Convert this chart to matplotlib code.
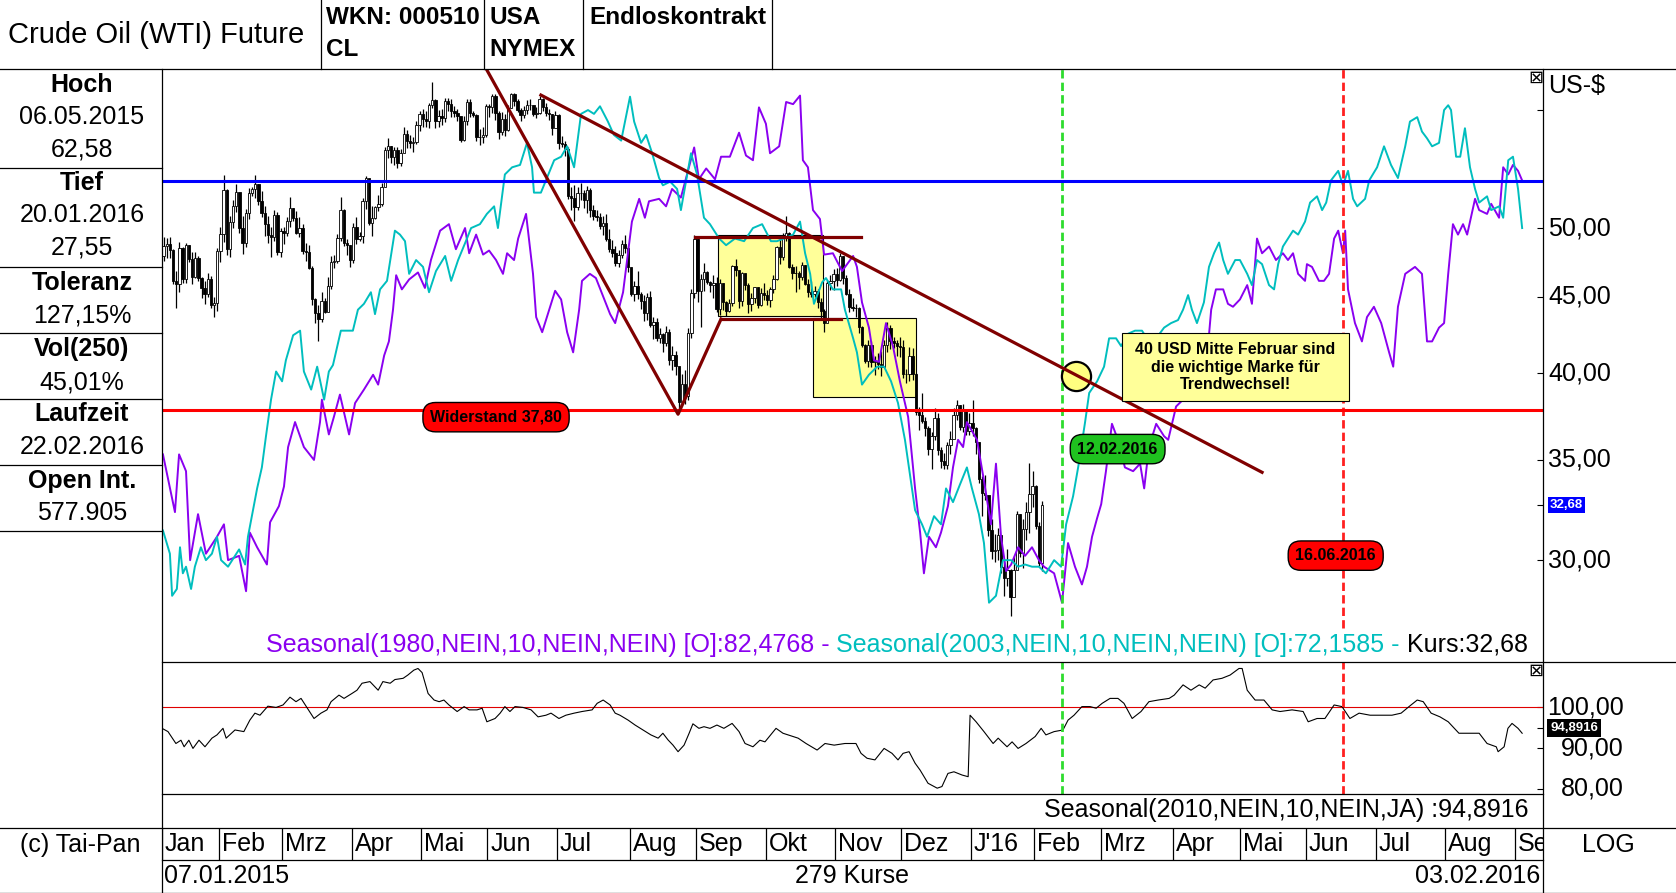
import numpy as np
import matplotlib
matplotlib.use("Agg")
import matplotlib.pyplot as plt
from matplotlib.patches import Rectangle
from matplotlib.lines import Line2D
from matplotlib import transforms

plt.rcParams['font.family'] = ['Liberation Sans', 'DejaVu Sans']
plt.rcParams['lines.scale_dashes'] = False

# daily bars 07.01.2015 - 03.02.2016 (279 Kurse), open = close of the day before
first_open = 47.93
close = [
    48.65, 48.79, 48.36, 46.07, 45.89, 48.48, 46.25, 48.69, 47.70, 46.39, 47.78, 46.31, 45.59, 45.15, 46.23, 44.45, 44.53, 48.24,
    49.57, 53.05, 48.45, 50.48, 51.69, 52.86, 50.02, 48.84, 51.21, 52.78, 53.10, 53.53, 52.14, 51.16, 50.34, 49.45, 49.28, 50.99, 48.17, 49.76,
    49.59, 50.52, 51.53, 50.76, 49.61, 50.00, 48.29, 48.17, 47.05, 44.84, 43.88, 43.46, 44.66, 43.96, 45.72, 47.45, 47.51, 49.21, 51.43, 48.87, 48.68, 47.60,
    50.09, 49.14, 49.40, 52.14, 53.98, 50.42, 50.79, 51.64, 51.91, 53.29, 56.39, 56.71, 55.74, 56.38, 55.26, 56.16, 57.74, 57.15, 56.99, 57.06, 58.58, 59.63,
    59.15, 58.93, 60.40, 60.93, 58.94, 59.39, 59.25, 60.75, 60.50, 59.88, 59.69, 59.43, 57.26, 58.98, 60.72, 59.72, 59.50, 57.51, 57.51, 57.68, 60.30,
    60.20, 61.26, 59.64, 58.00, 59.13, 58.14, 60.14, 61.43, 60.77, 59.96, 59.52, 59.97, 60.43, 60.45, 59.61, 59.68, 61.01, 60.27, 59.70, 59.63, 58.33, 59.47,
    56.96, 56.93, 56.50, 52.53, 52.33, 51.65, 52.78, 52.74, 52.20, 53.04, 51.41, 50.91, 50.89, 50.15, 50.36, 49.19, 48.45, 48.14, 47.39, 47.98, 48.79, 48.52, 47.12,
    45.17, 45.74, 45.15, 44.66, 43.87, 44.96, 43.08, 43.30, 42.23, 42.50, 41.87, 42.62, 40.80, 41.14, 40.45, 38.24, 39.31, 38.60, 42.56, 45.22, 49.20,
    45.41, 46.25, 46.75, 46.05, 45.80, 45.94, 44.15, 45.92, 44.63, 44.00, 44.59, 47.15, 46.90, 44.68, 46.68, 45.83, 44.48, 44.91, 45.70, 44.43, 45.23, 45.09,
    44.74, 45.54, 46.26, 48.53, 47.81, 49.43, 49.63, 47.10, 46.66, 46.64, 46.38, 47.26, 45.89, 45.29, 45.20, 45.38, 44.60, 43.98, 43.20, 45.94, 46.06, 46.59,
    46.14, 47.90, 46.32, 45.20, 44.29, 44.21, 44.21, 42.93, 41.75, 40.74, 41.74, 40.67, 40.75, 40.54, 40.39, 41.75, 42.87, 42.04, 41.90, 41.71, 41.65,
    39.94, 39.94, 41.08, 39.97, 37.65, 37.51, 37.16, 36.76, 35.62, 36.31, 37.35, 35.52, 34.95, 34.73, 35.81, 36.14, 37.50, 38.10, 36.81, 37.87, 36.60, 37.04,
    36.76, 35.97, 33.97, 33.27, 33.16, 31.41, 30.44, 30.48, 31.20, 29.70, 29.20, 29.57, 28.35, 29.53, 32.19, 30.34, 31.45, 32.30, 33.22, 33.62,
    31.62, 29.88, 32.68,
]
high = [
    49.31, 49.27, 49.28, 48.42, 46.84, 48.97, 48.55, 48.84, 48.75, 48.20, 48.21, 47.88, 46.40, 46.10, 46.68, 46.42, 44.97, 48.50,
    50.05, 54.24, 53.10, 50.91, 52.20, 53.50, 52.75, 50.90, 51.50, 53.20, 53.30, 54.24, 53.50, 52.90, 51.73, 50.90, 50.10, 51.39, 51.25, 50.00,
    50.09, 50.82, 52.48, 51.56, 51.31, 50.82, 50.30, 48.89, 48.72, 47.20, 44.91, 44.44, 45.34, 44.90, 46.40, 47.88, 47.96, 49.57, 52.48, 51.52, 49.20, 48.69,
    50.40, 50.85, 49.70, 52.38, 54.19, 53.93, 51.71, 51.73, 52.57, 53.56, 56.65, 57.42, 56.71, 56.64, 56.63, 56.48, 58.41, 58.12, 57.66, 57.56, 58.97, 59.90,
    60.09, 59.82, 60.65, 62.58, 60.96, 60.00, 60.09, 61.07, 61.09, 60.95, 60.34, 60.06, 59.23, 59.43, 61.02, 60.94, 59.90, 59.63, 58.25, 58.44, 60.53,
    60.51, 61.48, 61.46, 59.89, 59.79, 59.55, 60.45, 61.57, 61.51, 61.02, 60.12, 60.37, 60.90, 61.00, 60.45, 60.28, 61.28, 61.09, 60.56, 60.03, 59.58, 59.91,
    59.60, 57.62, 57.20, 56.60, 53.22, 53.45, 53.26, 53.61, 53.05, 53.34, 53.19, 51.83, 51.40, 51.15, 50.97, 51.07, 49.92, 49.11, 48.62, 48.35, 49.09, 49.46, 48.62,
    47.00, 46.11, 46.79, 45.35, 45.13, 45.24, 45.37, 43.59, 43.52, 42.88, 42.55, 43.02, 42.80, 41.68, 41.37, 40.20, 39.92, 40.22, 42.88, 45.50, 49.47,
    49.30, 46.56, 47.35, 46.81, 46.10, 46.54, 46.41, 46.20, 45.60, 44.72, 44.84, 47.21, 47.65, 46.80, 46.75, 46.60, 45.94, 45.25, 45.70, 45.50, 45.58, 45.98,
    45.47, 45.64, 46.49, 48.62, 49.22, 49.65, 50.92, 49.69, 47.33, 47.18, 46.80, 47.48, 47.23, 46.22, 46.12, 45.76, 45.54, 44.90, 44.16, 46.13, 46.54, 46.96,
    46.99, 48.15, 47.89, 46.53, 45.51, 44.90, 44.50, 44.30, 43.00, 41.86, 42.07, 42.04, 41.07, 41.24, 41.38, 42.08, 43.24, 43.06, 42.30, 42.08, 42.26,
    42.09, 40.25, 41.65, 41.60, 40.00, 37.96, 38.80, 37.41, 36.88, 36.54, 37.90, 37.64, 35.72, 35.38, 35.96, 36.57, 37.89, 38.39, 38.09, 38.15, 37.79, 37.64,
    38.39, 36.84, 35.97, 34.13, 34.22, 33.13, 31.98, 31.25, 31.53, 31.15, 29.90, 30.50, 29.60, 30.18, 32.35, 32.20, 31.98, 32.79, 34.82, 34.40,
    33.70, 31.83, 32.88,
]
low = [
    47.55, 47.76, 47.74, 45.87, 44.20, 45.35, 45.93, 45.96, 47.45, 45.87, 46.33, 46.06, 44.93, 44.51, 44.99, 44.20, 43.58, 43.99,
    47.43, 48.97, 47.96, 47.83, 50.02, 51.26, 49.59, 48.01, 48.58, 50.67, 52.50, 52.40, 51.83, 50.88, 49.40, 48.85, 47.82, 49.05, 47.98, 47.83,
    48.81, 49.37, 50.10, 50.51, 49.55, 49.30, 48.05, 47.56, 46.93, 44.43, 43.21, 42.03, 43.27, 43.85, 44.10, 45.55, 47.01, 47.39, 49.01, 48.65, 47.99, 47.08,
    47.35, 48.80, 49.00, 48.87, 51.48, 50.21, 49.36, 50.68, 51.32, 51.72, 53.71, 55.71, 55.25, 55.13, 54.82, 54.98, 56.37, 56.55, 56.58, 56.23, 56.87, 58.03,
    58.43, 58.41, 58.33, 60.12, 58.36, 58.45, 58.61, 58.89, 59.87, 59.31, 59.36, 58.98, 57.04, 57.16, 58.57, 59.34, 59.30, 57.20, 56.80, 57.03, 57.51,
    59.30, 59.72, 59.07, 57.30, 57.72, 57.59, 58.06, 60.20, 60.33, 59.73, 58.91, 59.23, 59.58, 59.97, 59.39, 59.20, 59.56, 59.88, 59.40, 59.06, 57.70, 58.38,
    56.46, 56.68, 55.90, 52.25, 51.40, 50.58, 51.41, 52.21, 51.54, 51.16, 50.86, 50.59, 50.54, 49.94, 49.45, 49.04, 48.16, 47.82, 47.19, 47.12, 47.72, 48.09, 46.72,
    45.03, 44.72, 44.86, 44.15, 43.33, 43.43, 42.97, 42.17, 42.05, 41.92, 41.35, 41.71, 40.52, 40.21, 39.86, 37.75, 38.13, 38.13, 38.36, 42.20, 44.88,
    44.65, 42.96, 45.37, 45.87, 45.30, 44.88, 43.92, 43.76, 44.07, 43.65, 43.92, 44.38, 46.46, 44.21, 44.32, 45.45, 43.88, 43.98, 44.54, 44.24, 44.38, 44.73,
    44.43, 44.29, 45.26, 46.17, 47.33, 47.62, 48.98, 47.02, 46.24, 45.34, 45.51, 46.19, 45.84, 44.98, 44.97, 44.98, 44.24, 43.49, 42.58, 43.75, 45.44, 45.49,
    45.76, 46.08, 45.87, 45.08, 43.97, 44.00, 43.61, 42.54, 41.61, 40.60, 40.36, 40.41, 39.90, 40.25, 39.81, 40.57, 41.35, 41.49, 41.60, 41.09, 41.01,
    39.70, 39.41, 39.51, 39.56, 37.50, 36.64, 37.04, 36.30, 35.29, 34.53, 36.10, 35.25, 34.56, 34.53, 34.53, 35.30, 36.28, 37.22, 36.65, 36.54, 36.37, 36.36,
    36.33, 35.31, 33.77, 32.10, 32.90, 31.12, 30.05, 29.93, 30.01, 29.40, 28.40, 28.85, 27.55, 28.41, 29.71, 30.15, 29.65, 30.94, 31.29, 32.57,
    31.48, 29.71, 29.52,
]

# x axis = bar number since 07.01.2015
month_names = ['Jan', 'Feb', 'Mrz', 'Apr', 'Mai', 'Jun', 'Jul', 'Aug', 'Sep', 'Okt', 'Nov', 'Dez',
               "J'16", 'Feb', 'Mrz', 'Apr', 'Mai', 'Jun', 'Jul', 'Aug', 'Sep']
month_start = [0, 18, 38, 60, 82, 103, 125, 148, 169, 191, 213, 234, 256, 276, 297, 320, 341, 362, 384, 406, 428]
x_end = 437

# Seasonal(1980,...) purple
purple_x = [0.3, 4.1, 5.4, 7.6, 8.9, 11.4, 13.9, 17.4, 19.6, 20.9, 24.4, 26.6, 27.8, 30.1, 33.2, 34.2, 37.0, 38.6, 39.9, 42.1,
            44.9, 48.1, 50.0, 50.6, 52.8, 54.4, 56.3, 59.2, 61.1, 63.9, 66.8, 68.4, 70.3, 71.8, 73.1, 74.1, 75.9, 78.2, 81.0, 83.2,
            85.1, 88.0, 90.8, 93.0, 95.9, 97.2, 99.4, 101.6, 103.5, 105.7, 107.9, 109.2, 111.4, 112.7, 115.2, 117.4, 118.4, 120.3, 121.8, 124.4,
            126.3, 128.2, 130.1, 132.0, 132.9, 135.4, 137.3, 139.6, 141.8, 143.4, 145.9, 148.7, 151.0, 152.8, 154.1, 157.3, 159.5, 161.4, 164.2, 168.4,
            169.9, 172.2, 175.0, 176.9, 179.7, 182.6, 184.8, 187.0, 188.9, 191.1, 192.4, 195.3, 197.5, 199.7, 201.9, 202.8, 204.4, 206.0, 208.2, 209.5,
            212.3, 215.2, 218.7, 219.9, 221.5, 223.7, 225.3, 226.9, 229.1, 231.3, 233.5, 236.1, 238.3, 239.9, 241.1, 242.7, 244.9, 246.5, 248.7, 250.3,
            251.9, 253.5, 254.7, 257.9, 260.1, 262.3, 263.9, 265.5, 267.1, 268.7, 270.9, 273.1, 275.3, 277.5, 279.1, 282.3, 284.8, 286.7, 288.9, 291.1,
            292.7, 294.3, 295.9, 297.2, 298.7, 300.6, 302.5, 304.7, 307.3, 309.5, 310.8, 312.3, 314.6, 317.1, 318.4, 320.9, 323.1, 325.3, 327.5, 330.7,
            332.0, 333.5, 335.8, 337.3, 338.9, 341.1, 343.4, 344.9, 346.5, 348.1, 350.3, 352.5, 354.7, 356.3, 357.9, 359.5, 361.7, 362.3, 363.9, 366.1,
            367.7, 369.3, 370.9, 372.2, 373.7, 374.4, 375.3, 377.5, 379.7, 381.3, 383.5, 385.8, 388.3, 389.6, 391.1, 393.4, 396.5, 398.7, 400.3, 401.9,
            404.1, 405.7, 407.0, 408.5, 410.1, 411.7, 413.0, 415.5, 416.8, 419.3, 420.6, 423.1, 424.4, 426.0, 427.5, 429.1, 430.4]
purple_y = [35.3, 32.3, 35.3, 34.4, 30.0, 32.2, 30.3, 31.1, 31.7, 30.0, 30.2, 28.6, 31.3, 30.6, 29.8, 31.8, 32.6, 33.6, 35.7, 37.1,
            35.7, 35.0, 37.1, 38.4, 36.4, 37.4, 38.7, 36.4, 38.2, 39.0, 39.9, 39.3, 41.1, 42.0, 44.1, 46.5, 45.5, 46.2, 46.7, 45.6,
            47.6, 49.8, 50.3, 48.4, 50.0, 48.1, 49.5, 48.0, 48.3, 47.6, 46.6, 48.1, 47.6, 49.2, 51.1, 46.6, 43.6, 42.6, 43.6, 45.4,
            44.8, 42.6, 41.3, 44.1, 46.1, 46.6, 46.3, 45.0, 43.8, 43.2, 45.3, 50.5, 52.3, 50.8, 52.1, 52.3, 51.7, 53.1, 52.4, 56.6,
            53.9, 54.8, 53.9, 55.8, 55.8, 57.9, 55.9, 55.5, 60.2, 58.7, 56.1, 56.7, 60.7, 60.5, 61.3, 55.5, 54.9, 51.4, 50.7, 48.0,
            48.1, 46.8, 47.9, 47.1, 44.6, 42.9, 40.8, 40.7, 43.2, 41.7, 39.5, 37.4, 33.5, 31.3, 29.4, 31.1, 30.6, 31.3, 32.6, 34.6,
            36.1, 35.7, 37.1, 36.1, 33.9, 31.7, 34.8, 31.1, 29.5, 29.8, 30.6, 30.2, 30.6, 30.0, 29.7, 29.4, 28.1, 30.8, 29.7, 28.9,
            29.7, 31.1, 32.0, 32.7, 34.4, 37.0, 36.1, 34.6, 34.4, 34.8, 33.5, 35.7, 37.0, 36.3, 36.1, 38.0, 38.4, 38.4, 38.8, 41.0,
            44.1, 45.5, 45.5, 44.5, 44.3, 44.8, 45.8, 44.5, 49.2, 48.1, 48.6, 47.6, 48.1, 47.6, 48.1, 46.6, 46.1, 47.3, 47.1, 46.1,
            46.1, 46.6, 49.2, 49.8, 48.1, 49.8, 45.5, 43.2, 42.0, 43.6, 44.3, 43.2, 41.3, 40.4, 44.3, 46.6, 47.1, 46.6, 42.0, 42.0,
            42.9, 43.2, 46.6, 50.3, 49.5, 50.3, 49.5, 52.3, 51.4, 51.1, 51.9, 50.8, 54.9, 54.3, 55.1, 54.6, 53.8]

# Seasonal(2003,...) cyan
cyan_x = [0.3, 2.5, 3.2, 4.7, 5.7, 6.6, 7.6, 9.2, 10.4, 12.3, 13.9, 15.8, 17.4, 18.7, 20.9, 23.1, 24.4, 26.3, 27.2, 28.8,
          30.1, 31.6, 32.9, 34.5, 36.1, 38.0, 39.2, 41.5, 43.7, 44.9, 47.2, 49.1, 51.3, 52.8, 54.1, 56.6, 58.2, 60.4, 62.0, 63.9,
          66.1, 67.4, 69.0, 71.2, 73.7, 75.3, 76.9, 78.2, 80.4, 82.6, 84.5, 86.7, 89.6, 91.5, 93.7, 96.5, 97.8, 100.6, 102.8, 105.1,
          106.3, 108.5, 110.8, 113.3, 115.5, 117.1, 117.7, 119.9, 121.8, 124.1, 126.3, 128.2, 130.4, 132.6, 134.8, 136.7, 138.6, 141.1, 143.0, 145.3,
          146.5, 148.1, 149.4, 151.6, 153.2, 155.1, 157.3, 158.5, 160.8, 163.0, 164.2, 165.8, 167.4, 169.3, 171.5, 173.4, 176.3, 178.5, 181.3, 184.2,
          187.0, 189.9, 192.7, 194.6, 196.8, 199.7, 201.9, 203.5, 205.1, 206.3, 208.9, 210.1, 212.3, 214.9, 216.1, 218.7, 219.9, 221.5, 223.7, 226.3,
          228.5, 230.7, 232.9, 235.1, 237.3, 238.3, 240.5, 242.1, 244.3, 246.5, 248.1, 250.3, 252.5, 254.7, 256.3, 258.5, 260.1, 261.7, 263.9, 266.1,
          268.7, 270.9, 273.1, 275.3, 277.5, 279.7, 282.3, 284.5, 286.1, 288.3, 289.9, 292.1, 293.4, 295.9, 298.1, 299.7, 301.9, 303.5, 305.7, 307.9,
          310.1, 312.3, 314.6, 317.1, 319.3, 321.5, 323.1, 324.7, 325.9, 327.5, 329.7, 331.3, 332.9, 334.5, 335.8, 337.3, 339.6, 341.1, 343.4, 344.9,
          346.5, 348.1, 350.3, 351.9, 353.2, 354.7, 356.3, 357.9, 359.5, 361.7, 363.3, 365.5, 367.1, 368.4, 369.9, 372.2, 373.7, 375.3, 376.9, 378.2,
          380.7, 382.0, 384.5, 386.7, 388.9, 391.1, 393.4, 394.9, 397.2, 398.7, 400.3, 401.9, 404.1, 405.7, 407.0, 407.9, 409.5, 410.8, 412.3, 413.9,
          415.5, 416.8, 419.3, 420.6, 423.1, 424.4, 426.0, 427.5, 429.1, 430.4]
cyan_y = [31.4, 30.3, 28.4, 28.7, 30.6, 29.4, 29.7, 28.7, 29.7, 30.6, 30.0, 30.3, 31.1, 30.0, 29.7, 30.2, 30.5, 29.8, 31.1, 32.4,
          33.5, 34.6, 36.3, 38.4, 40.1, 39.5, 40.8, 42.4, 42.7, 40.1, 39.0, 40.4, 38.4, 40.1, 40.5, 42.7, 42.7, 42.7, 44.1, 44.5,
          45.3, 43.8, 45.5, 46.1, 49.8, 49.5, 49.0, 46.6, 47.6, 47.1, 45.3, 46.8, 47.9, 46.1, 47.6, 49.2, 50.0, 50.3, 51.1, 51.7,
          50.0, 54.3, 54.9, 55.1, 57.0, 54.9, 52.8, 52.8, 54.0, 55.5, 55.8, 56.7, 54.9, 59.6, 59.95, 59.6, 60.3, 58.9, 57.7, 57.2,
          58.9, 61.2, 58.9, 57.0, 57.7, 56.1, 54.0, 53.4, 53.7, 53.1, 51.4, 53.7, 56.1, 54.3, 50.8, 50.3, 49.2, 48.7, 49.2, 49.0,
          50.0, 50.3, 49.0, 49.0, 49.2, 49.5, 50.5, 48.1, 46.6, 44.5, 46.0, 46.3, 45.5, 45.5, 44.1, 42.2, 41.3, 39.3, 39.9, 40.4,
          40.4, 39.5, 38.2, 36.1, 33.5, 32.4, 31.7, 31.1, 32.1, 31.7, 33.5, 32.8, 33.7, 34.6, 33.5, 32.2, 30.8, 28.1, 28.4, 30.0,
          30.0, 29.7, 29.8, 29.7, 29.7, 29.4, 30.0, 29.7, 31.7, 33.1, 34.6, 37.1, 38.8, 39.5, 40.4, 42.2, 42.2, 41.7, 42.5, 42.7,
          42.7, 42.0, 42.2, 42.9, 43.2, 43.4, 44.1, 45.1, 44.1, 43.2, 44.6, 47.1, 48.1, 48.9, 47.6, 46.6, 47.6, 47.6, 46.6, 45.8,
          47.6, 47.3, 45.8, 45.5, 47.3, 48.6, 49.2, 49.8, 49.5, 50.5, 52.0, 52.5, 51.4, 52.0, 53.8, 54.6, 53.4, 54.6, 52.3, 51.7,
          52.3, 53.8, 54.9, 56.7, 55.1, 54.0, 56.7, 58.9, 59.3, 58.0, 57.4, 56.7, 57.0, 59.95, 60.4, 59.95, 55.8, 55.8, 58.3, 54.9,
          53.1, 52.0, 52.5, 51.4, 51.7, 50.8, 55.5, 55.8, 53.1, 50.0]

# Seasonal(2010,NEIN,10,NEIN,JA) lower panel
seas_x = [0.0, 1.9, 4.4, 6.0, 7.0, 8.5, 9.8, 11.7, 13.6, 15.8, 17.4, 19.3, 20.3, 23.1, 25.9, 27.8, 29.4, 31.0, 33.5, 36.1,
          38.3, 40.5, 42.4, 44.0, 45.6, 48.1, 50.3, 52.2, 53.5, 56.0, 57.6, 60.1, 61.7, 63.3, 65.8, 68.4, 69.9, 72.2, 73.7, 76.3,
          77.8, 79.7, 81.0, 82.3, 84.2, 86.1, 87.7, 89.2, 90.8, 93.4, 95.6, 97.2, 99.7, 101.3, 102.8, 105.4, 107.0, 108.5, 110.1, 111.7,
          114.2, 116.8, 119.0, 121.5, 123.1, 125.6, 127.8, 130.4, 132.9, 136.1, 137.7, 139.6, 141.8, 143.4, 144.9, 147.5, 149.7, 152.2, 154.7, 157.0,
          158.5, 160.1, 161.7, 163.3, 165.2, 166.8, 168.0, 169.9, 171.5, 173.4, 175.6, 177.8, 180.4, 182.6, 184.5, 187.0, 189.2, 190.8, 194.3, 196.5,
          201.3, 203.8, 207.3, 209.8, 212.7, 216.1, 219.6, 221.2, 223.1, 225.6, 228.5, 231.0, 232.9, 234.5, 236.4, 238.3, 239.9, 242.4, 245.3, 246.8,
          248.7, 250.6, 253.2, 255.1, 255.7, 257.6, 260.1, 263.0, 264.6, 267.4, 269.0, 270.9, 273.4, 276.3, 278.2, 279.7, 282.3, 285.1, 286.7, 288.6,
          291.1, 293.7, 295.6, 297.5, 300.0, 302.5, 304.4, 307.0, 309.8, 312.3, 315.2, 318.7, 320.3, 323.1, 325.6, 328.2, 330.1, 332.6, 335.4, 338.0,
          340.8, 341.8, 343.4, 345.9, 348.7, 351.3, 353.8, 357.6, 361.1, 362.7, 365.5, 368.0, 370.9, 373.4, 375.9, 378.8, 382.3, 385.8, 389.2, 392.1,
          394.6, 397.2, 399.1, 401.6, 404.4, 407.0, 410.4, 413.9, 416.8, 419.3, 422.2, 422.8, 424.7, 425.9, 427.2, 429.1, 430.4]
seas_y = [94.8, 94.0, 91.1, 91.9, 90.3, 91.9, 89.9, 91.9, 90.3, 92.4, 93.2, 94.8, 92.4, 94.4, 94.0, 96.8, 98.5, 98.0, 100.2, 99.9,
          100.5, 102.4, 101.3, 102.1, 100.2, 97.2, 98.5, 99.3, 101.3, 102.9, 102.1, 103.3, 104.1, 105.8, 106.2, 104.1, 106.2, 105.8, 106.7, 107.0,
          107.8, 109.0, 109.4, 108.4, 103.3, 101.7, 101.3, 101.7, 100.5, 98.9, 100.1, 99.3, 99.3, 99.7, 96.4, 97.2, 98.5, 100.1, 98.9, 100.1,
          99.9, 99.3, 97.6, 98.0, 98.5, 97.2, 98.0, 98.5, 98.9, 99.3, 100.9, 101.7, 100.5, 98.5, 98.0, 96.8, 95.6, 94.4, 93.2, 92.4,
          93.6, 92.0, 90.7, 89.1, 90.7, 93.6, 95.9, 94.8, 95.2, 94.8, 95.6, 94.8, 96.0, 94.0, 91.1, 90.3, 91.9, 91.5, 94.8, 93.6,
          92.4, 91.1, 89.5, 91.1, 90.7, 91.1, 91.1, 88.7, 87.5, 87.1, 89.9, 88.7, 87.1, 88.7, 89.1, 86.3, 84.6, 81.4, 80.2, 80.6,
          83.8, 84.2, 83.4, 83.0, 98.0, 96.4, 94.0, 91.1, 92.4, 90.3, 91.5, 89.9, 91.1, 92.8, 94.8, 93.2, 94.0, 94.4, 96.8, 98.0,
          100.1, 100.1, 99.7, 100.9, 102.1, 102.1, 100.9, 97.2, 98.9, 101.3, 101.7, 102.1, 102.9, 105.4, 104.1, 105.4, 104.6, 106.6, 107.0, 107.8,
          109.4, 109.4, 104.1, 101.7, 101.7, 99.3, 98.9, 99.3, 98.9, 96.4, 97.2, 97.2, 100.5, 100.1, 97.2, 98.5, 98.0, 98.0, 98.0, 98.5,
          100.1, 101.7, 101.3, 98.5, 97.6, 96.4, 93.6, 93.6, 93.6, 91.1, 90.3, 89.1, 90.3, 94.8, 96.0, 94.8, 93.6]

# drawings on the chart
blue_level = 53.75
resistance = 37.80
green_day = 284.8   # 12.02.2016
red_day = 373.7     # 16.06.2016
v_leg_x, v_leg_y = [102.8, 163.3, 176.9], [63.76, 37.55, 43.47]
trend_x, trend_y = [119.9, 348.1], [61.35, 34.34]
box_low_x, box_low_y = [176.9, 214.9], 43.47
box_top_x, box_top_y = [168.7, 221.2], 49.31
yellow1 = (176.0, 209.2, 43.7, 49.5)
yellow2 = (206.0, 238.6, 38.55, 43.53)
circle_pt = (289.2, 39.8)
note_box = (303.8, 375.6, 38.32, 42.54)

PURPLE = '#8a00f0'
CYAN = '#00bebe'
MAROON = '#800000'

W, H = 1676, 893
fig = plt.figure(figsize=(W / 100, H / 100), dpi=100)


def fx(px):
    return px / W


def fy(py):
    return 1 - py / H


def place(l, t, r, b):
    return [fx(l), fy(b), fx(r) - fx(l), fy(t) - fy(b)]


def hline(y, x0, x1):
    fig.add_artist(Line2D([fx(x0), fx(x1)], [fy(y), fy(y)], transform=fig.transFigure, color='black', lw=0.9))


def vline(x, y0, y1):
    fig.add_artist(Line2D([fx(x), fx(x)], [fy(y0), fy(y1)], transform=fig.transFigure, color='black', lw=0.9))


ax = fig.add_axes(place(162, 69, 1543, 662))
ax2 = fig.add_axes(place(162, 662, 1543, 794))
axm = fig.add_axes(place(162, 828, 1543, 860))

# ---- main panel ----
ax.set_yscale('log')
ax.set_xlim(0, x_end)
ax.set_ylim(25.65, 63.86)

c = np.array(close)
h = np.array(high)
lo = np.array(low)
o = np.r_[first_open, c[:-1]]
xb = np.arange(len(c)) + 0.5
up = c >= o
ax.vlines(xb, lo, h, color='black', lw=0.9, zorder=3)
ax.bar(xb, np.abs(c - o), bottom=np.minimum(o, c), width=0.75,
       color=['white' if u else 'black' for u in up], edgecolor='black', linewidth=0.6, zorder=3.1)

for x0, x1, y0, y1 in [yellow1, yellow2]:
    ax.add_patch(Rectangle((x0, y0), x1 - x0, y1 - y0, fc='#ffff99', ec='black', lw=0.8, zorder=1))

ax.plot(purple_x, purple_y, color=PURPLE, lw=1.4, zorder=4)
ax.plot(cyan_x, cyan_y, color=CYAN, lw=1.4, zorder=4)

for a in (ax, ax2):
    ymin = 0.057 if a is ax else 0.0
    a.axvline(green_day, ymin=ymin, color='#2edc2e', lw=2, dashes=(6, 3), zorder=5)
    a.axvline(red_day, ymin=ymin, color='#ff2020', lw=2, dashes=(6, 3), zorder=5)

ax.axhline(blue_level, color='#0000ff', lw=2.2, zorder=6)
ax.axhline(resistance, color='#ff0000', lw=2.2, zorder=6)

ax.plot([circle_pt[0]], [circle_pt[1]], 'o', ms=21, mfc='#ffff80', mec='black', mew=1.6, zorder=6.5)

ax.plot(v_leg_x, v_leg_y, color=MAROON, lw=2.3, zorder=7)
ax.plot(trend_x, trend_y, color=MAROON, lw=2.3, zorder=7)
ax.plot(box_low_x, [box_low_y] * 2, color=MAROON, lw=2.3, zorder=7)
ax.plot(box_top_x, [box_top_y] * 2, color=MAROON, lw=2.3, zorder=7)

nx0, nx1, ny0, ny1 = note_box
ax.add_patch(Rectangle((nx0, ny0), nx1 - nx0, ny1 - ny0, fc='#ffff99', ec='black', lw=0.8, zorder=8))
ax.text((nx0 + nx1) / 2, np.sqrt(ny0 * ny1), '40 USD Mitte Februar sind\ndie wichtige Marke für\nTrendwechsel!',
        ha='center', va='center', fontsize=11.5, fontweight='bold', multialignment='center', zorder=9)

lab = dict(ha='center', va='center', fontsize=11.5, fontweight='bold', zorder=9)
ax.text(105.7, 37.38, 'Widerstand 37,80',
        bbox=dict(boxstyle='round,pad=0.45,rounding_size=0.8', fc='#ff0000', ec='black', lw=1), **lab)
ax.text(302.4, 35.59, '12.02.2016',
        bbox=dict(boxstyle='round,pad=0.45,rounding_size=0.8', fc='#1fc21f', ec='black', lw=1), **lab)
ax.text(371.4, 30.21, '16.06.2016',
        bbox=dict(boxstyle='round,pad=0.45,rounding_size=0.8', fc='#ff0000', ec='black', lw=1), **lab)

# legend row inside the main panel, right aligned
t1 = ax.text(0.9891, 0.0169, ' Kurs:32,68', transform=ax.transAxes, ha='right', va='baseline', fontsize=18)
t2 = ax.annotate(' Seasonal(2003,NEIN,10,NEIN,NEIN) [O]:72,1585 -', xy=(0, 0.0169), xycoords=(t1, 'axes fraction'),
                 ha='right', va='baseline', fontsize=18, color=CYAN)
ax.annotate('Seasonal(1980,NEIN,10,NEIN,NEIN) [O]:82,4768 -', xy=(0, 0.0169), xycoords=(t2, 'axes fraction'),
            ha='right', va='baseline', fontsize=18, color=PURPLE)

ax.minorticks_off()
ax.yaxis.tick_right()
ax.set_yticks([30, 35, 40, 45, 50, 60, 32.68])
ax.set_yticklabels([])
ax.set_xticks([])
ax.tick_params(axis='y', direction='in', length=4, width=0.8, right=True, left=False)
for s in ax.spines.values():
    s.set_visible(False)

tm = transforms.blended_transform_factory(fig.transFigure, ax.transData)
for v in [30, 35, 40, 45, 50]:
    ax.text(fx(1548), v, f'{v:.2f}'.replace('.', ','), transform=tm, ha='left', va='center', fontsize=18, clip_on=False)
ax.text(fx(1550), 32.68, '32,68', transform=tm, ha='left', va='center', fontsize=9.5, fontweight='bold', color='white',
        bbox=dict(boxstyle='square,pad=0.15', fc='#0000ff', ec='none'), clip_on=False)

# ---- lower panel ----
ax2.set_xlim(0, x_end)
ax2.set_ylim(78.78, 110.98)
ax2.plot(seas_x, seas_y, color='black', lw=0.8, zorder=4)
ax2.axhline(100, color='#e00000', lw=0.8, zorder=3)
ax2.yaxis.tick_right()
ax2.set_yticks([80, 90, 100, 94.8916])
ax2.set_yticklabels([])
ax2.set_xticks([])
ax2.tick_params(axis='y', direction='in', length=4, width=0.8, right=True, left=False)
for s in ax2.spines.values():
    s.set_visible(False)
tm2 = transforms.blended_transform_factory(fig.transFigure, ax2.transData)
for v in [80, 90, 100]:
    ax2.text(fx(1624), v, f'{v:.2f}'.replace('.', ','), transform=tm2, ha='right', va='center', fontsize=18, clip_on=False)
ax2.text(fx(1550), 94.8916, '94,8916', transform=tm2, ha='left', va='center', fontsize=9.5, fontweight='bold', color='white',
         bbox=dict(boxstyle='square,pad=0.2', fc='black', ec='none'), clip_on=False)
fig.text(fx(1528), fy(817), 'Seasonal(2010,NEIN,10,NEIN,JA) :94,8916', ha='right', va='baseline', fontsize=18)

# ---- month row ----
axm.set_xlim(0, x_end)
axm.set_ylim(0, 1)
axm.axis('off')
tmonth = transforms.offset_copy(transforms.blended_transform_factory(axm.transData, axm.transAxes), fig, x=3, units='dots')
for s, name in zip(month_start, month_names):
    axm.axvline(s, color='black', lw=0.9)
    axm.text(s, 0.5, name, transform=tmonth, ha='left', va='center', fontsize=18, clip_on=True)

# ---- frame, header and side panel ----
hline(69, 0, W)
hline(662, 162, W)
hline(794, 162, 1543)
hline(828, 0, W)
hline(860, 162, 1543)
hline(892.5, 0, W)
for y in [168, 267, 333, 399, 465, 531]:
    hline(y, 0, 162)
vline(162, 69, H)
vline(1543, 69, H)
for x in [321, 484, 583, 772]:
    vline(x, 0, 69)

fig.text(fx(8), fy(35), 'Crude Oil (WTI) Future', ha='left', va='center', fontsize=21)
fig.text(fx(326), fy(17), 'WKN: 000510', ha='left', va='center', fontsize=17.5, fontweight='bold')
fig.text(fx(326), fy(50), 'CL', ha='left', va='center', fontsize=17.5, fontweight='bold')
fig.text(fx(489), fy(17), 'USA', ha='left', va='center', fontsize=17.5, fontweight='bold')
fig.text(fx(489), fy(50), 'NYMEX', ha='left', va='center', fontsize=17.5, fontweight='bold')
fig.text(fx(589), fy(17), 'Endloskontrakt', ha='left', va='center', fontsize=17.5, fontweight='bold')

side = [(85, 'Hoch', True), (117, '06.05.2015', False), (149, '62,58', False),
        (183, 'Tief', True), (215, '20.01.2016', False), (248, '27,55', False),
        (283, 'Toleranz', True), (315, '127,15%', False),
        (349, 'Vol(250)', True), (382, '45,01%', False),
        (414, 'Laufzeit', True), (447, '22.02.2016', False),
        (481, 'Open Int.', True), (513, '577.905', False)]
for y, txt, bold in side:
    fig.text(fx(82), fy(y), txt, ha='center', va='center', fontsize=18, fontweight='bold' if bold else 'normal')

fig.text(fx(1548), fy(86), 'US-$', ha='left', va='center', fontsize=18)
fig.text(fx(1543), fy(69), '\u22a0', ha='right', va='top', fontsize=13, family='DejaVu Sans')
fig.text(fx(1543), fy(662), '\u22a0', ha='right', va='top', fontsize=13, family='DejaVu Sans')

fig.text(fx(80), fy(845), '(c) Tai-Pan', ha='center', va='center', fontsize=18)
fig.text(fx(1608), fy(845), 'LOG', ha='center', va='center', fontsize=18)
fig.text(fx(164), fy(876), '07.01.2015', ha='left', va='center', fontsize=18)
fig.text(fx(852), fy(876), '279 Kurse', ha='center', va='center', fontsize=18)
fig.text(fx(1540), fy(876), '03.02.2016', ha='right', va='center', fontsize=18)

fig.savefig('out.png', dpi=100)
